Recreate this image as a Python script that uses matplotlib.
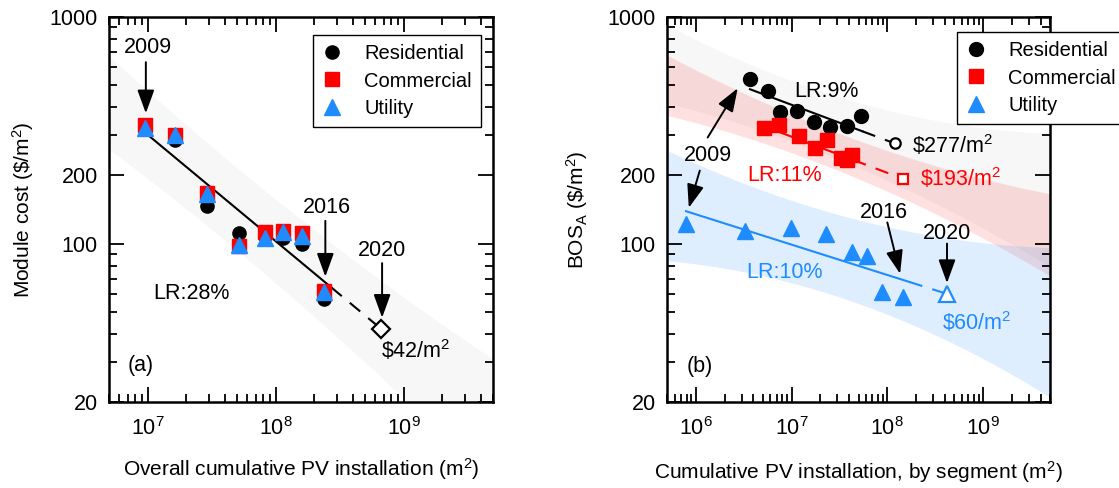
import numpy as np
import matplotlib
matplotlib.use("Agg")
import matplotlib.pyplot as plt
from matplotlib.ticker import FixedLocator, FixedFormatter, LogLocator, NullFormatter, LogFormatterSciNotation

plt.rcParams["font.family"] = ["Liberation Sans", "DejaVu Sans"]
plt.rcParams["mathtext.fontset"] = "custom"
plt.rcParams["mathtext.rm"] = "Liberation Sans"
plt.rcParams["mathtext.it"] = "Liberation Sans:italic"
plt.rcParams["mathtext.default"] = "regular"

BLUE = "#1E8CFF"
RED = "#FF0000"
FS_TICK = 15.5
FS_TXT = 15.5
FS_LAB = 15
FS_LEG = 14.5

# ---------------- (a) module cost vs overall cumulative installation ----------------
mod_x = [9.5e6, 1.63e7, 2.9e7, 5.15e7, 8.3e7, 1.15e8, 1.62e8, 2.41e8]
mod_res = [330, 286, 147, 111, 108, 106, 100, 57]
mod_com = [333, 301, 168, 98, 112, 114, 111, 62]
mod_utl = [323, 300, 166, 99, 106, 112, 108, 61]
mod_fit_start = (9.5e6, 310)      # first point of the learning curve
mod_fit_solid_end = 2.73e8        # fitted range ends in 2016
mod_2020 = (6.7e8, 42)            # projected 2020 module cost
mod_lr = 28
# prediction band edges (log-log), given at three installation levels
mod_band_x = [5e6, 1e8, 5e9]
mod_band_hi = [673, 157, 31]
mod_band_lo = [261, 67, 8.6]

# ---------------- (b) area-related BOS cost by segment ----------------
res_x = [3.68e6, 5.62e6, 7.66e6, 1.14e7, 1.70e7, 2.54e7, 3.78e7, 5.28e7]
res_y = [532, 471, 380, 384, 345, 328, 331, 366]
com_x = [5.1e6, 7.4e6, 1.2e7, 1.77e7, 2.33e7, 3.3e7, 3.75e7, 4.3e7]
com_y = [323, 333, 297, 263, 288, 238, 233, 245]
utl_x = [7.9e5, 3.3e6, 9.8e6, 2.27e7, 4.3e7, 6.15e7, 8.8e7, 1.47e8]
utl_y = [122, 114, 117, 110, 91.5, 88.5, 61, 58]

res_fit_start, res_solid_end, res_2020 = (3.68e6, 480), 5.5e7, (1.19e8, 277)
com_fit_start, com_solid_end, com_2020 = (5.1e6, 330), 4.4e7, (1.47e8, 193)
utl_fit_start, utl_solid_end, utl_2020 = (7.9e5, 139), 1.7e8, (4.2e8, 60)
res_lr, com_lr, utl_lr = 9, 11, 10

bos_band_x = [5e5, 4.1e7, 5e9]
res_band_hi = [923, 430, 307]
res_band_lo = [417, 224, 79]
com_band_hi = [679, 294, 166]
com_band_lo = [368, 200, 72]
utl_band_hi = [258, 130, 96]
utl_band_lo = [84, 56, 21]


def power_line(start, end, xs):
    (x0, y0), (x1, y1) = start, end
    b = np.log10(y1 / y0) / np.log10(x1 / x0)
    return y0 * (np.asarray(xs) / x0) ** b


def band(ax, bx, lo, hi, xlim, **kw):
    lx = np.log10(bx)
    plo = np.polyfit(lx, np.log10(lo), 2)
    phi = np.polyfit(lx, np.log10(hi), 2)
    xs = np.linspace(np.log10(xlim[0]), np.log10(xlim[1]), 200)
    ax.fill_between(10 ** xs, 10 ** np.polyval(plo, xs), 10 ** np.polyval(phi, xs),
                    lw=0, zorder=0, **kw)


def fit_line(ax, start, solid_end, end, color):
    xs = np.logspace(np.log10(start[0]), np.log10(solid_end), 50)
    ax.plot(xs, power_line(start, end, xs), color=color, lw=1.5, zorder=3)
    xd = np.logspace(np.log10(solid_end), np.log10(end[0]), 30)
    ax.plot(xd, power_line(start, end, xd), color=color, lw=1.5, zorder=3,
            dashes=(6.5, 5))


def arrow(ax, tail, tip):
    ax.annotate("", xy=tip, xytext=tail,
                arrowprops=dict(arrowstyle="-|>,head_length=1.1,head_width=0.4",
                                color="k", lw=1.4, shrinkA=0, shrinkB=0,
                                mutation_scale=13),
                zorder=6)


def style_axes(ax, xlim):
    ax.set_xscale("log")
    ax.set_yscale("log")
    ax.set_xlim(*xlim)
    ax.set_ylim(20, 1000)
    ax.yaxis.set_major_locator(FixedLocator([20, 100, 200, 1000]))
    ax.yaxis.set_major_formatter(FixedFormatter(["20", "100", "200", "1000"]))
    ax.yaxis.set_minor_locator(FixedLocator([30, 40, 50, 60, 70, 80, 90,
                                             300, 400, 500, 600, 700, 800, 900]))
    ax.yaxis.set_minor_formatter(NullFormatter())
    ax.xaxis.set_major_locator(LogLocator(base=10, numticks=20))
    ax.xaxis.set_major_formatter(LogFormatterSciNotation())
    ax.xaxis.set_minor_locator(LogLocator(base=10, subs=np.arange(2, 10), numticks=20))
    ax.xaxis.set_minor_formatter(NullFormatter())
    ax.tick_params(which="both", direction="in", top=True, right=True, width=1.3,
                   labelsize=FS_TICK)
    ax.tick_params(which="major", length=11)
    ax.tick_params(which="minor", length=6)
    ax.tick_params(axis="x", pad=11)
    ax.tick_params(axis="y", pad=8)
    for s in ax.spines.values():
        s.set_linewidth(1.8)


def legend(ax, anchor_px):
    lg = ax.legend(loc="upper left",
                   bbox_to_anchor=(anchor_px[0] / 1119, 1 - anchor_px[1] / 488),
                   bbox_transform=fig.transFigure, borderaxespad=0, fontsize=FS_LEG,
                   frameon=True, fancybox=False, edgecolor="k", framealpha=1,
                   handlelength=1.0, handletextpad=1.1, labelspacing=0.42,
                   borderpad=0.45)
    lg.get_frame().set_linewidth(1.0)
    return lg


fig = plt.figure(figsize=(11.19, 4.88), dpi=100)
axa = fig.add_axes([109 / 1119, 86 / 488, 384 / 1119, 385 / 488])
axb = fig.add_axes([667 / 1119, 86 / 488, 383 / 1119, 385 / 488])

# ---- panel (a)
xlim_a = (5e6, 5e9)
style_axes(axa, xlim_a)
band(axa, mod_band_x, mod_band_lo, mod_band_hi, xlim_a, color="k", alpha=0.032)
fit_line(axa, mod_fit_start, mod_fit_solid_end, mod_2020, "k")
axa.plot(mod_x, mod_res, "o", color="k", ms=9.5, ls="none", zorder=4, label="Residential")
axa.plot(mod_x, mod_com, "s", color=RED, ms=9.5, ls="none", zorder=4, label="Commercial")
axa.plot(mod_x, mod_utl, "^", color=BLUE, ms=12, ls="none", zorder=5, label="Utility")
axa.plot(*mod_2020, "D", mfc="white", mec="k", mew=1.6, ms=9, zorder=5)
axa.text(mod_2020[0], 33.6, "\\$%d/m$^2$" % mod_2020[1], fontsize=FS_TXT, ha="left", va="center")
axa.text(2.2e7, 60, "LR:%d%%" % mod_lr, fontsize=FS_TXT, ha="center", va="center")
axa.text(0.083, 0.096, "(a)", transform=axa.transAxes, fontsize=FS_TXT, ha="center", va="center")

axa.text(1.0e7, 736, "2009", fontsize=FS_TXT, ha="center", va="center")
arrow(axa, (9.7e6, 632), (9.7e6, 376))
axa.text(2.5e8, 144, "2016", fontsize=FS_TXT, ha="center", va="center")
arrow(axa, (2.45e8, 126), (2.45e8, 71.5))
axa.text(6.8e8, 93, "2020", fontsize=FS_TXT, ha="center", va="center")
arrow(axa, (6.8e8, 82), (6.8e8, 47.1))

legend(axa, (313, 35))

axa.text(-0.224, 0.5, "Module cost (\\$/m$^2$)", transform=axa.transAxes, rotation=90,
         fontsize=FS_LAB, ha="center", va="center")
axa.text(0.5, -0.174, "Overall cumulative PV installation (m$^2$)", transform=axa.transAxes,
         fontsize=FS_LAB, ha="center", va="center")

# ---- panel (b)
xlim_b = (5e5, 5e9)
style_axes(axb, xlim_b)
band(axb, bos_band_x, res_band_lo, res_band_hi, xlim_b, color="k", alpha=0.03)
band(axb, bos_band_x, com_band_lo, com_band_hi, xlim_b, color=RED, alpha=0.12)
band(axb, bos_band_x, utl_band_lo, utl_band_hi, xlim_b, color=BLUE, alpha=0.14)

fit_line(axb, res_fit_start, res_solid_end, res_2020, "k")
fit_line(axb, com_fit_start, com_solid_end, com_2020, RED)
fit_line(axb, utl_fit_start, utl_solid_end, utl_2020, BLUE)

axb.plot(res_x, res_y, "o", color="k", ms=10, ls="none", zorder=4, label="Residential")
axb.plot(com_x, com_y, "s", color=RED, ms=9.5, ls="none", zorder=4, label="Commercial")
axb.plot(utl_x, utl_y, "^", color=BLUE, ms=12, ls="none", zorder=4, label="Utility")
axb.plot(*res_2020, "o", mfc="white", mec="k", mew=1.6, ms=7.5, zorder=5)
axb.plot(*com_2020, "s", mfc="white", mec=RED, mew=1.6, ms=7.5, zorder=5)
axb.plot(*utl_2020, "^", mfc="white", mec=BLUE, mew=1.6, ms=11, zorder=5)

axb.text(1.82e8, 272, "\\$%d/m$^2$" % res_2020[1], fontsize=FS_TXT, ha="left", va="center")
axb.text(2.2e8, 194, "\\$%d/m$^2$" % com_2020[1], fontsize=FS_TXT, ha="left", va="center",
         color=RED)
axb.text(3.74e8, 44.7, "\\$%d/m$^2$" % utl_2020[1], fontsize=FS_TXT, ha="left", va="center",
         color=BLUE)
axb.text(2.3e7, 471, "LR:%d%%" % res_lr, fontsize=FS_TXT, ha="center", va="center")
axb.text(8.45e6, 200, "LR:%d%%" % com_lr, fontsize=FS_TXT, ha="center", va="center", color=RED)
axb.text(8.45e6, 74.5, "LR:%d%%" % utl_lr, fontsize=FS_TXT, ha="center", va="center", color=BLUE)
axb.text(0.086, 0.091, "(b)", transform=axb.transAxes, fontsize=FS_TXT, ha="center", va="center")

axb.text(1.33e6, 245, "2009", fontsize=FS_TXT, ha="center", va="center")
arrow(axb, (1.33e6, 294), (2.74e6, 485))
arrow(axb, (1.1e6, 210), (8.45e5, 144))
axb.text(9.1e7, 137, "2016", fontsize=FS_TXT, ha="center", va="center")
arrow(axb, (1.0e8, 124), (1.36e8, 73.6))
axb.text(4.2e8, 111, "2020", fontsize=FS_TXT, ha="center", va="center")
arrow(axb, (4.2e8, 100), (4.2e8, 67))

legend(axb, (957, 32))

axb.text(-0.235, 0.5, "BOS$_A$ (\\$/m$^2$)", transform=axb.transAxes, rotation=90,
         fontsize=FS_LAB, ha="center", va="center")
axb.text(0.5, -0.182, "Cumulative PV installation, by segment (m$^2$)",
         transform=axb.transAxes, fontsize=FS_LAB, ha="center", va="center")

fig.savefig("out.png", dpi=100)
